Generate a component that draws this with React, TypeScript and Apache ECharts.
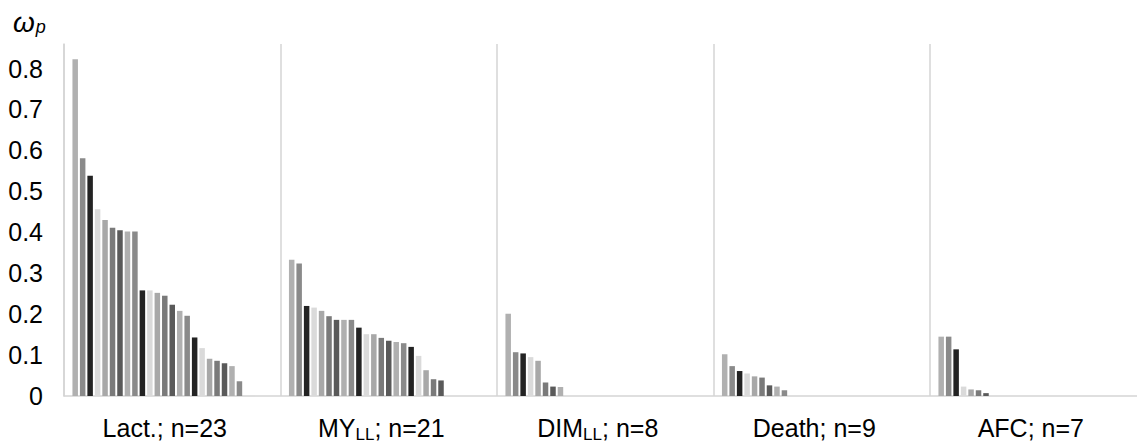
import React, { useEffect, useRef } from "react";
import * as echarts from "echarts";

const groupLabels = [
  "Lact.; n=23",
  "MY{sub|LL}; n=21",
  "DIM{sub|LL}; n=8",
  "Death; n=9",
  "AFC; n=7",
];

const lactValues = [
  0.823, 0.581, 0.538, 0.456, 0.43, 0.411, 0.405, 0.402, 0.402, 0.258, 0.258,
  0.252, 0.245, 0.223, 0.208, 0.196, 0.143, 0.117, 0.091, 0.086, 0.08, 0.073,
  0.036,
];
const myValues = [
  0.333, 0.324, 0.22, 0.216, 0.208, 0.195, 0.186, 0.186, 0.186, 0.167, 0.151,
  0.151, 0.142, 0.135, 0.132, 0.129, 0.12, 0.098, 0.063, 0.041, 0.038,
];
const dimValues = [0.201, 0.107, 0.104, 0.095, 0.086, 0.033, 0.023, 0.022];
const deathValues = [0.102, 0.073, 0.061, 0.055, 0.048, 0.045, 0.026, 0.023, 0.014];
const afcValues = [0.145, 0.145, 0.114, 0.023, 0.016, 0.014, 0.007];

const rankColors = ["#b0b0b0", "#8a8a8a", "#232323", "#dadada", "#a8a8a8", "#7a7a7a", "#5a5a5a"];

const SLOTS = 29;
const GROUP_W = 216.5;

export default function App() {
  const ref = useRef<HTMLDivElement>(null);
  useEffect(() => {
    if (!ref.current) return;
    const chart = echarts.init(ref.current, undefined, { renderer: "svg" });
    const groups = [lactValues, myValues, dimValues, deathValues, afcValues];
    const categories: string[] = [];
    const data: any[] = [];
    groups.forEach((vals, g) => {
      for (let s = 0; s < SLOTS; s++) {
        categories.push(`g${g}s${s}`);
        if (s >= 1 && s <= vals.length) {
          data.push({ value: vals[s - 1], itemStyle: { color: rankColors[(s - 1) % rankColors.length] } });
        } else {
          data.push("-");
        }
      }
    });
    const lineColor = "#d4d4d4";
    chart.setOption({
      animation: false,
      grid: { left: 64, top: 44, height: 352, width: GROUP_W * 5 },
      xAxis: {
        type: "category",
        data: categories,
        boundaryGap: true,
        axisLine: { show: true, lineStyle: { color: lineColor, width: 1.5 } },
        axisTick: { show: false },
        splitLine: {
          show: true,
          interval: (i: number) => i % SLOTS === 0,
          lineStyle: { color: lineColor, width: 1.5 },
        },
        axisLabel: {
          interval: (i: number) => i % SLOTS === 13,
          formatter: (_v: string, i: number) => groupLabels[Math.floor(i / SLOTS)],
          fontSize: 25,
          fontFamily: "Liberation Sans",
          color: "#000",
          margin: 17,
          lineHeight: 30,
          rich: {
            sub: {
              fontSize: 17,
              fontFamily: "Liberation Sans",
              color: "#000",
              lineHeight: 30,
              verticalAlign: "bottom",
            },
          },
        },
      },
      yAxis: {
        type: "value",
        min: 0,
        max: 0.86,
        interval: 0.1,
        axisLine: { show: true, lineStyle: { color: lineColor, width: 1.5 } },
        axisTick: { show: false },
        splitLine: { show: false },
        axisLabel: {
          fontSize: 25,
          fontFamily: "Liberation Sans",
          color: "#000",
          margin: 21,
          showMaxLabel: false,
          formatter: (v: number) => String(Math.round(v * 10) / 10),
        },
      },
      graphic: [
        {
          type: "text",
          left: 13,
          top: 8,
          style: {
            text: "{w|ω}{p|p}",
            rich: {
              w: { fontSize: 28, fontStyle: "italic", fontFamily: "Liberation Sans", fill: "#000", lineHeight: 32, verticalAlign: "bottom" },
              p: { fontSize: 18, fontStyle: "italic", fontFamily: "Liberation Sans", fill: "#000", lineHeight: 32, verticalAlign: "bottom", padding: [0, 0, 0, 1] },
            },
          },
        },
      ],
      series: [
        {
          type: "bar",
          data,
          barWidth: 5.5,
          itemStyle: { borderWidth: 0 },
        },
      ],
    });
    return () => chart.dispose();
  }, []);
  return (
    <div style={{ position: "fixed", left: 0, top: 0, width: 1137, height: 444, overflow: "hidden", background: "#fff" }}>
      <div ref={ref} style={{ width: 1160, height: 444 }} />
    </div>
  );
}
